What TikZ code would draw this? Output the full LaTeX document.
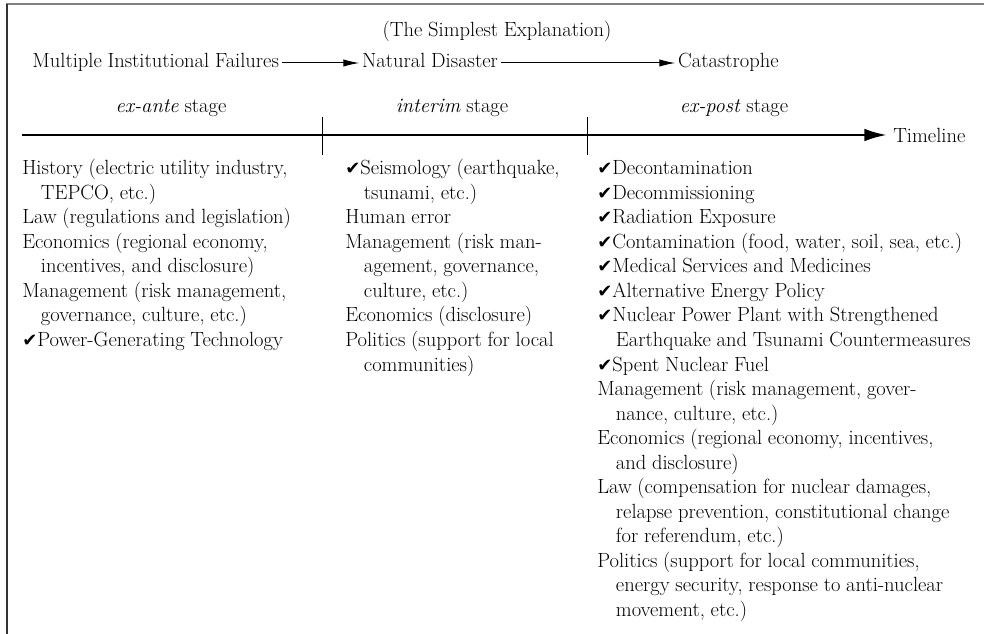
\documentclass[tikz,border=0pt]{standalone}
\usepackage{fontspec}
\newfontfamily\dingfont{DejaVu Sans}
\newcommand{\chk}{{\dingfont\fontsize{13.5}{13.5}\selectfont ✔}}
\newcommand{\cont}{\hspace*{14pt}}
\usetikzlibrary{arrows.meta}

\begin{document}
\begin{tikzpicture}[x=0.75pt, y=-0.75pt,
  txt/.style={font={\fontsize{15.4}{18.4}\selectfont\spaceskip=0.28em plus 0.1em minus 0.05em}, inner sep=0pt},
  row/.style={txt, inner xsep=2pt, text height=10.5pt, text depth=3pt},
  col/.style={txt, align=left, anchor=north west},
  flow/.style={-{Latex[length=12pt, width=5.5pt]}, line width=0.75pt},
  stagemark/.style={line width=0.75pt}]
  \useasboundingbox (0,0) rectangle (984,634);

  \draw[gray, line width=1.5pt] (5.5,4.5) -- (984,4.5);
  \draw[black!80, line width=1.5pt] (6.5,4.5) -- (6.5,634);

  \node[txt, anchor=base] (expl) at (497,37) {(The Simplest Explanation)};
  \node[row, anchor=base west] (mif) at (29.5,68) {Multiple Institutional Failures};
  \node[row, anchor=base west] (nd) at (359.3,68) {Natural Disaster};
  \node[row, anchor=base west] (cat) at (675.3,68) {Catastrophe};
  \draw[flow] (mif.east) -- (nd.west);
  \draw[flow] (nd.east) -- (cat.west);

  \node[txt, anchor=base] (ante) at (171,113) {\textit{ex-ante} stage};
  \node[txt, anchor=base] (intr) at (452,113) {\textit{interim} stage};
  \node[txt, anchor=base] (post) at (734,113) {\textit{ex-post} stage};

  \coordinate (t0) at (22,135);
  \node[txt, anchor=west, inner xsep=4.5pt] (tl) at (887,135) {Timeline};
  \draw[line width=2pt, -{Latex[length=17pt, width=9.5pt]}] (t0) -- (tl.west);
  \draw[stagemark] (322,117) -- (322,155);
  \draw[stagemark] (587,117) -- (587,155);

  \node[col] (ante list) at (22,157.3) {\strut History (electric utility industry,\\
    \cont TEPCO, etc.)\\
    Law (regulations and legislation)\\
    Economics (regional economy,\\
    \cont incentives, and disclosure)\\
    Management (risk management,\\
    \cont governance, culture, etc.)\\
    \chk Power-Generating Technology};

  \node[col] (intr list) at (345,157.3) {\strut\chk Seismology (earthquake,\\
    \cont tsunami, etc.)\\
    Human error\\
    Management (risk man-\\
    \cont agement, governance,\\
    \cont culture, etc.)\\
    Economics (disclosure)\\
    Politics (support for local\\
    \cont communities)};

  \node[col] (post list) at (597,157.3) {\strut\chk Decontamination\\
    \chk Decommissioning\\
    \chk Radiation Exposure\\
    \chk Contamination (food, water, soil, sea, etc.)\\
    \chk Medical Services and Medicines\\
    \chk Alternative Energy Policy\\
    \chk Nuclear Power Plant with Strengthened\\
    \cont Earthquake and Tsunami Countermeasures\\
    \chk Spent Nuclear Fuel\\
    Management (risk management, gover-\\
    \cont nance, culture, etc.)\\
    Economics (regional economy, incentives,\\
    \cont and disclosure)\\
    Law (compensation for nuclear damages,\\
    \cont relapse prevention, constitutional change\\
    \cont for referendum, etc.)\\
    Politics (support for local communities,\\
    \cont energy security, response to anti-nuclear\\
    \cont movement, etc.)};
\end{tikzpicture}
\end{document}
